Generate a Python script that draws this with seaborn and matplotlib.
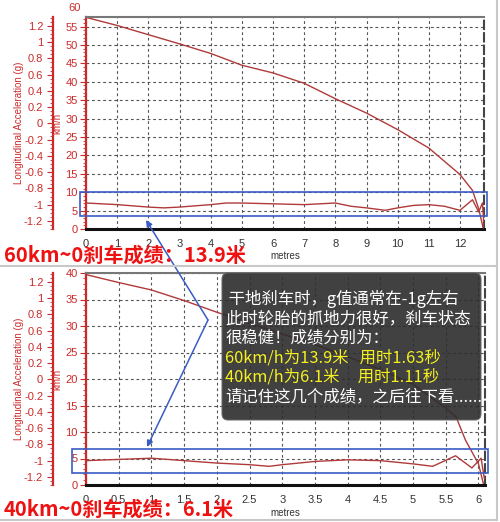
import matplotlib
matplotlib.use("Agg")
import numpy as np
import pandas as pd
import matplotlib.pyplot as plt
import seaborn as sns
from matplotlib.patches import Rectangle, FancyBboxPatch, FancyArrowPatch
from matplotlib.lines import Line2D
from matplotlib.ticker import AutoMinorLocator, FuncFormatter
import matplotlib.transforms as mtransforms

# 60 km/h -> 0 run
top_dist = [0, 1, 2, 3, 4, 5, 6, 7, 8, 9, 10, 11, 12, 12.4, 12.6, 12.75]
top_speed = [57.5, 55.3, 52.8, 50.3, 47.7, 44.5, 42.4, 39.6, 35.4, 31.5, 27.0, 22.0, 14.8, 10.5, 5.5, 0]
top_acc_dist = [0, 1, 2, 2.5, 3, 4, 4.5, 5, 6, 7, 8, 8.5, 9, 9.6, 10, 10.5, 11, 11.5, 12, 12.4, 12.6, 12.72, 12.78]
top_acc = [-0.98, -1.0, -1.03, -1.04, -1.03, -1.0, -0.98, -0.98, -0.99, -1.0, -0.98, -1.02, -1.04, -1.07,
           -1.04, -1.01, -1.0, -1.02, -1.07, -0.94, -1.09, -0.98, -1.3]

# 40 km/h -> 0 run
bot_dist = [0, 0.5, 1, 1.5, 2, 2.5, 3, 3.5, 4, 4.5, 5, 5.5, 5.66, 5.8, 6.0, 6.08]
bot_speed = [39.7, 38.2, 36.8, 34.8, 32.6, 30.5, 28.5, 26.5, 24.2, 21.8, 19.0, 14.5, 12.8, 8.5, 4.0, 0]
bot_acc_dist = [0, 1, 2, 2.5, 2.8, 3, 3.5, 4, 4.5, 5, 5.3, 5.65, 5.9, 6.04, 6.09]
bot_acc = [-1.0, -0.97, -1.03, -1.05, -1.07, -1.05, -1.01, -0.99, -1.0, -1.04, -1.07, -0.94, -1.09, -0.97, -1.22]

top_xticks = list(range(0, 13))
bot_xticks = [0, 0.5, 1, 1.5, 2, 2.5, 3, 3.5, 4, 4.5, 5, 5.5, 6]
top_speed_ticks = list(range(0, 60, 5))
bot_speed_ticks = list(range(0, 45, 5))
acc_ticks = [-1.2, -1.0, -0.8, -0.6, -0.4, -0.2, 0, 0.2, 0.4, 0.6, 0.8, 1.0, 1.2]

titles = ["60km~0刹车成绩：13.9米", "40km~0刹车成绩：6.1米"]
note_lines = [" 干地刹车时，g值通常在-1g左右",
              "此时轮胎的抓地力很好，刹车状态",
              "很稳健！成绩分别为：",
              "60km/h为13.9米   用时1.63秒",
              "40km/h为6.1米     用时1.11秒",
              "请记住这几个成绩，之后往下看......"]
note_colors = ["white", "white", "white", "#f5f020", "#f5f020", "white"]

RED = "#cc2a2a"
LINE = "#b03a3a"
BLUE = "#3a5cc4"

sns.set_style("white")
plt.rcParams["font.family"] = ["Liberation Sans", "Noto Sans CJK SC", "DejaVu Sans"]

W, H = 500, 522
fig = plt.figure(figsize=(5.0, 5.22), dpi=100)


def fx(px):
    return px / W


def fy(py):
    return 1 - py / H


def panel(rect, dist, speed, acc_dist, acc, xmax, xticks, ymax, yticks, extra_top=None):
    ax = fig.add_axes(rect)
    sns.lineplot(x=dist, y=speed, ax=ax, color=LINE, lw=1.0)
    ax.set_xlim(0, xmax)
    ax.set_ylim(0, ymax)
    ax.set_xticks(xticks)
    ax.set_xticklabels([f"{v:g}" for v in xticks])
    ax.set_yticks(yticks)
    ax.xaxis.set_minor_locator(AutoMinorLocator(5))
    ax.yaxis.set_minor_locator(AutoMinorLocator(5))
    ax.grid(True, which="major", color="#555555", ls=(0, (2.5, 2.5)), lw=0.8)
    ax.tick_params(axis="y", which="both", colors=RED, labelsize=8, pad=2, direction="out")
    ax.tick_params(axis="y", which="major", length=4)
    ax.tick_params(axis="y", which="minor", length=2)
    ax.tick_params(axis="x", which="both", colors="#222222", labelsize=8, labelcolor="#333333", direction="out")
    ax.tick_params(axis="x", which="major", length=3, pad=4)
    ax.tick_params(axis="x", which="minor", length=2)
    ax.spines["left"].set_color(RED)
    ax.spines["left"].set_linewidth(1.6)
    ax.spines["bottom"].set_color("#111111")
    ax.spines["bottom"].set_linewidth(2.2)
    ax.spines["top"].set_color("#777777")
    ax.spines["top"].set_linewidth(1.5)
    ax.spines["right"].set_color("#444444")
    ax.spines["right"].set_linestyle((0, (4, 2)))
    ax.spines["right"].set_linewidth(1.5)
    ax.set_xlabel("metres", fontsize=7, color="#333333", labelpad=2)
    ax.set_ylabel("km/h", fontsize=7, color=RED)
    ax.yaxis.set_label_coords(-0.06, 0.5)
    if extra_top is not None:
        tr = mtransforms.blended_transform_factory(ax.transAxes, ax.transData)
        ax.text(-0.012, extra_top, f"{extra_top}", transform=tr, ha="right", va="center",
                fontsize=8, color=RED, clip_on=False)

    ax2 = ax.twinx()
    sns.lineplot(x=acc_dist, y=acc, ax=ax2, color=LINE, lw=1.0)
    ax2.set_ylim(-1.3, 1.31)
    ax2.set_xlim(0, xmax)
    ax2.set_yticks(acc_ticks)
    ax2.yaxis.set_major_formatter(FuncFormatter(lambda v, p: f"{round(v, 1):g}" if abs(v) > 1e-9 else "0"))
    ax2.yaxis.set_minor_locator(AutoMinorLocator(4))
    ax2.yaxis.tick_left()
    ax2.yaxis.set_label_position("left")
    for s in ["top", "right", "bottom"]:
        ax2.spines[s].set_visible(False)
    ax2.spines["left"].set_position(("axes", -0.083))
    ax2.spines["left"].set_color(RED)
    ax2.spines["left"].set_linewidth(1.6)
    ax2.tick_params(axis="y", which="both", colors=RED, labelsize=8, pad=3, direction="out")
    ax2.tick_params(axis="y", which="major", length=4)
    ax2.tick_params(axis="y", which="minor", length=2)
    ax2.set_ylabel("Longitudinal Acceleration (g)", fontsize=7, color=RED)
    ax2.yaxis.set_label_coords(-0.155, 0.5)
    return ax, ax2


panel([fx(86), fy(229), fx(484) - fx(86), fy(17) - fy(229)],
      top_dist, top_speed, top_acc_dist, top_acc, 12.77, top_xticks, 57.6, top_speed_ticks, extra_top=60)
panel([fx(86), fy(485), fx(485) - fx(86), fy(273) - fy(485)],
      bot_dist, bot_speed, bot_acc_dist, bot_acc, 6.1, bot_xticks, 40, bot_speed_ticks)

# panel frames
for yy in (266, 520):
    fig.add_artist(Line2D([0, fx(497)], [fy(yy), fy(yy)], transform=fig.transFigure, color="#c8c8c8", lw=1.5))
fig.add_artist(Line2D([fx(497), fx(497)], [fy(0), fy(520)], transform=fig.transFigure, color="#c8c8c8", lw=1.5))

# banner results
fig.text(fx(4), fy(255), titles[0], fontsize=14.5, fontweight="bold", color="#ee1111",
         ha="left", va="center", family=["Noto Sans CJK SC", "DejaVu Sans"])
fig.text(fx(4), fy(509), titles[1], fontsize=14.5, fontweight="bold", color="#ee1111",
         ha="left", va="center", family=["Noto Sans CJK SC", "DejaVu Sans"])

# highlight boxes around the g trace
for (x0, y0, x1, y1) in [(80, 192, 487, 216), (72, 449, 488, 473)]:
    fig.add_artist(Rectangle((fx(x0), fy(y1)), fx(x1) - fx(x0), fy(y0) - fy(y1),
                             transform=fig.transFigure, fill=False, ec=BLUE, lw=1.2))

# pointer arrows
fig.add_artist(FancyArrowPatch((fx(208), fy(320)), (fx(146), fy(220)), transform=fig.transFigure,
                               arrowstyle="-|>", mutation_scale=9, color=BLUE, lw=1.1, shrinkA=0, shrinkB=0))
fig.add_artist(FancyArrowPatch((fx(208), fy(320)), (fx(147), fy(447)), transform=fig.transFigure,
                               arrowstyle="-|>", mutation_scale=9, color=BLUE, lw=1.1, shrinkA=0, shrinkB=0))

# dark note box
fig.add_artist(FancyBboxPatch((fx(222), fy(420)), fx(481) - fx(222), fy(273) - fy(420),
                              boxstyle="round,pad=0,rounding_size=0.012", transform=fig.transFigure,
                              fc="#2c2c2c", ec="#666666", lw=0.8, alpha=0.9))
for i, (txt, col) in enumerate(zip(note_lines, note_colors)):
    fig.text(fx(225), fy(299 + i * 19.6), txt, fontsize=11.8, color=col, ha="left", va="center",
             family=["Noto Sans CJK SC", "DejaVu Sans"])

fig.savefig("out.png", dpi=100)
